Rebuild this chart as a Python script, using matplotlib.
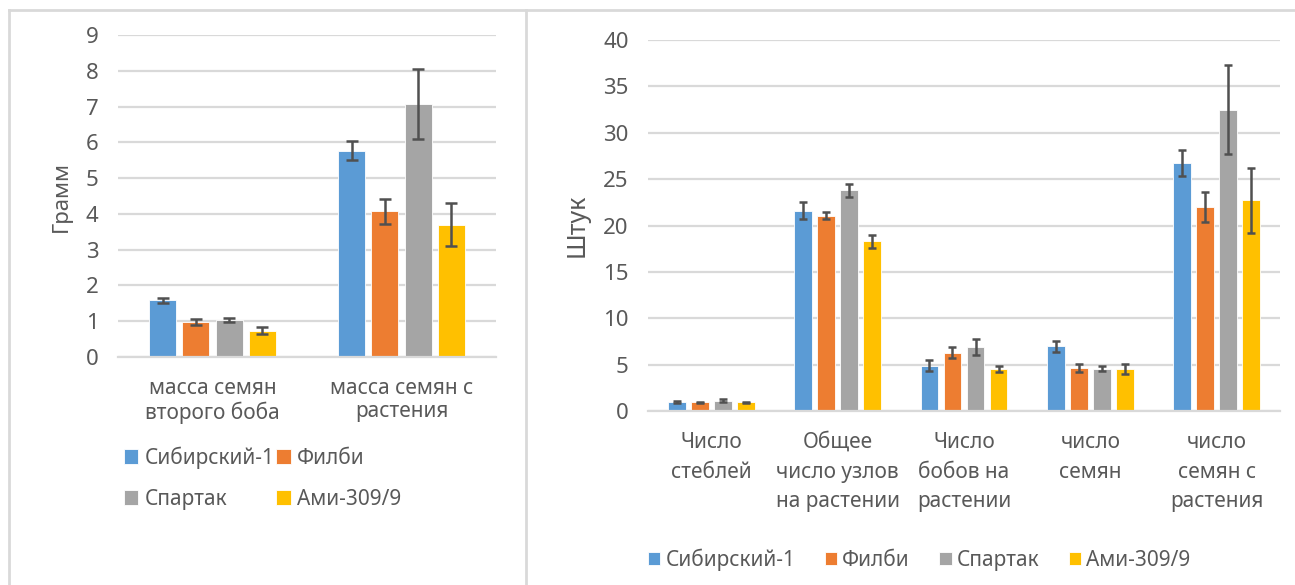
import numpy as np
import matplotlib
matplotlib.use("Agg")
import matplotlib.pyplot as plt
from matplotlib.lines import Line2D

plt.rcParams["font.family"] = ["Noto Sans", "DejaVu Sans"]

varieties = ["Сибирский-1", "Филби", "Спартак", "Ами-309/9"]
colors = ["#5B9BD5", "#ED7D31", "#A5A5A5", "#FFC000"]

# left chart: mass (gram)
left_cats = ["масса семян\nвторого боба", "масса семян с\nрастения"]
left_sib = [1.58, 5.77]
left_fil = [0.98, 4.08]
left_spa = [1.04, 7.07]
left_ami = [0.73, 3.70]
left_sib_err = [0.06, 0.27]
left_fil_err = [0.09, 0.35]
left_spa_err = [0.06, 0.97]
left_ami_err = [0.10, 0.61]

# right chart: counts (pieces)
right_cats = ["Число\nстеблей", "Общее\nчисло узлов\nна растении",
              "Число\nбобов на\nрастении", "число\nсемян",
              "число\nсемян с\nрастения"]
right_sib = [0.95, 21.6, 4.9, 7.0, 26.7]
right_fil = [0.95, 21.05, 6.3, 4.65, 22.0]
right_spa = [1.1, 23.8, 6.9, 4.55, 32.5]
right_ami = [0.95, 18.3, 4.55, 4.55, 22.7]
right_sib_err = [0.12, 0.9, 0.6, 0.6, 1.4]
right_fil_err = [0.05, 0.4, 0.6, 0.45, 1.6]
right_spa_err = [0.15, 0.7, 0.85, 0.25, 4.8]
right_ami_err = [0.05, 0.7, 0.35, 0.55, 3.5]

W, H = 1295, 585
fig = plt.figure(figsize=(W / 100, H / 100), dpi=100)

grid_c = "#D9D9D9"
text_c = "#595959"


def px_axes(x0, y0, x1, y1):
    return fig.add_axes([x0 / W, 1 - y1 / H, (x1 - x0) / W, (y1 - y0) / H])


def draw_panel(ax, cats, series, errs, ymax, ystep, pitch, width, capsize,
               fs_tick, fs_cat, ylabel, fs_ylab, cat_pad, lsp):
    x = np.arange(len(cats))
    n = len(series)
    for i, (vals, err) in enumerate(zip(series, errs)):
        off = (i - (n - 1) / 2) * pitch
        ax.bar(x + off, vals, width, color=colors[i], edgecolor="white",
               linewidth=0.6, label=varieties[i], zorder=2)
        ax.errorbar(x + off, vals, yerr=err, fmt="none", ecolor="#505050",
                    elinewidth=1.8, capsize=capsize, capthick=1.8, zorder=3)
    ax.set_xlim(-0.5, len(cats) - 0.5)
    ax.set_ylim(0, ymax)
    ax.set_yticks(np.arange(0, ymax + 0.1, ystep))
    ax.yaxis.grid(True, color=grid_c, linewidth=1.6, zorder=0)
    ax.set_axisbelow(True)
    for s in ["top", "right", "left"]:
        ax.spines[s].set_visible(False)
    ax.spines["bottom"].set_color(grid_c)
    ax.spines["bottom"].set_linewidth(1.6)
    ax.set_xticks(x)
    ax.set_xticklabels(cats, fontsize=fs_cat, color=text_c, linespacing=lsp)
    ax.tick_params(axis="both", length=0)
    ax.tick_params(axis="y", labelsize=fs_tick, labelcolor=text_c, pad=14)
    ax.tick_params(axis="x", pad=cat_pad)
    ax.set_ylabel(ylabel, fontsize=fs_ylab, color=text_c, labelpad=10)


ax1 = px_axes(118, 35, 496, 357)
draw_panel(ax1, left_cats,
           [left_sib, left_fil, left_spa, left_ami],
           [left_sib_err, left_fil_err, left_spa_err, left_ami_err],
           9, 1, 0.175, 0.143, 4, 16, 15, "Грамм", 16, 15, 1.15)
h1, l1 = ax1.get_legend_handles_labels()
order = [0, 2, 1, 3]
ax1.legend([h1[i] for i in order], [l1[i] for i in order],
           loc="upper left", bbox_to_anchor=(-0.035, -0.22), ncol=2,
           frameon=False, fontsize=15, handlelength=0.7, handleheight=0.7,
           handletextpad=0.3, columnspacing=0.1, labelspacing=0.95,
           labelcolor=text_c)

ax2 = px_axes(648, 40, 1280, 411)
draw_panel(ax2, right_cats,
           [right_sib, right_fil, right_spa, right_ami],
           [right_sib_err, right_fil_err, right_spa_err, right_ami_err],
           40, 5, 0.182, 0.142, 3, 16, 15, "Штук", 18, 15, 1.55)
ax2.legend(loc="upper left", bbox_to_anchor=(-0.03, -0.32), ncol=4,
           frameon=False, fontsize=15, handlelength=0.6, handleheight=0.6,
           handletextpad=0.25, columnspacing=1.4, labelcolor=text_c)

# panel borders
for xs, ys in [((9, 9), (10, H)), ((9, W), (10, 10)), ((526, 526), (10, H))]:
    fig.add_artist(Line2D([x / W for x in xs], [1 - y / H for y in ys],
                          transform=fig.transFigure, color=grid_c,
                          linewidth=2))

fig.savefig("out.png", dpi=100)
